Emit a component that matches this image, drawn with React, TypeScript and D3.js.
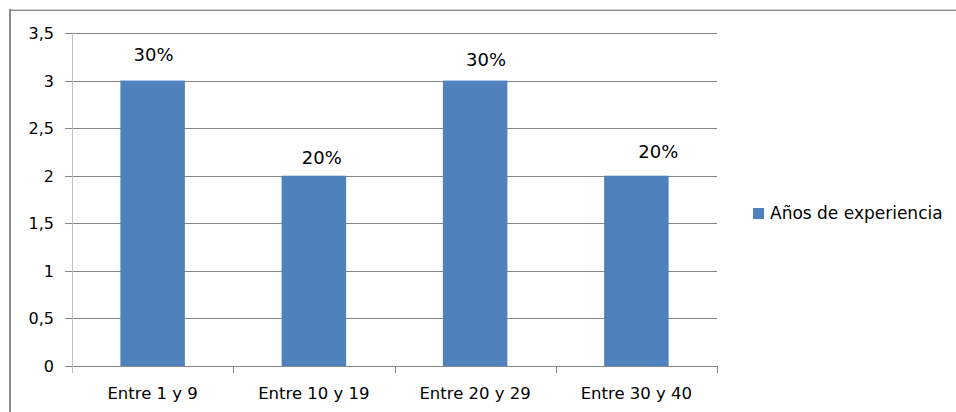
import React from "react";
import * as d3 from "d3";

const categories = ["Entre 1 y 9", "Entre 10 y 19", "Entre 20 y 29", "Entre 30 y 40"];
const values = [3, 2, 3, 2];
const valueLabels = ["30%", "20%", "30%", "20%"];
const yTicks = [0, 0.5, 1, 1.5, 2, 2.5, 3, 3.5];
const seriesName = "Años de experiencia";

const labelDx = [1, 8, 11, 22];
const labelDy = [-26, -18, -21, -24];

const W = 956, H = 412;
const plot = { left: 72, right: 717, top: 33, bottom: 366 };
const FONT = "'DejaVu Sans', Verdana, sans-serif";

export default function App() {
  const x = d3.scaleBand<string>().domain(categories).range([plot.left, plot.right]).paddingInner(0.6).paddingOuter(0.3);
  const y = d3.scaleLinear().domain([0, 3.5]).range([plot.bottom, plot.top]);
  const step = x.step();
  const bandEdges = d3.scaleBand<string>().domain(categories).range([plot.left, plot.right]);
  const fmt = (v: number) => String(v).replace(".", ",");
  const barColor = "#4f81bd";
  return (
    <svg width={W} height={H} style={{ position: "absolute", left: 0, top: 0 }} fontFamily={FONT}>
      <rect x={0} y={0} width={W} height={H} fill="#fff" />
      <line x1={9} x2={W} y1={9.5} y2={9.5} stroke="#d0d0d0" strokeWidth={1} />
      <line x1={9} x2={W} y1={10.5} y2={10.5} stroke="#8c8c8c" strokeWidth={1} />
      <line x1={10} x2={10} y1={9} y2={H} stroke="#8c8c8c" strokeWidth={2} />
      {yTicks.map((t) => (
        <g key={t}>
          <line x1={65} x2={plot.right} y1={Math.round(y(t)) + 0.5} y2={Math.round(y(t)) + 0.5} stroke="#868686" strokeWidth={1} />
          <text x={54} y={Math.round(y(t))} dy="0.35em" textAnchor="end" fontSize={16} fill="#000">{fmt(t)}</text>
        </g>
      ))}
      <line x1={plot.left + 0.5} x2={plot.left + 0.5} y1={plot.top} y2={plot.bottom + 7} stroke="#bfbfbf" strokeWidth={1} />
      {categories.map((c) => (
        <line key={c} x1={Math.round((bandEdges(c) as number) + step) + 0.5} x2={Math.round((bandEdges(c) as number) + step) + 0.5} y1={plot.bottom} y2={plot.bottom + 7} stroke="#868686" />
      ))}
      {categories.map((c, i) => {
        const bx = x(c) as number;
        const bw = x.bandwidth();
        return (
          <g key={c}>
            <rect x={bx} y={y(values[i])} width={bw} height={y(0) - y(values[i])} fill={barColor} />
            <text x={bx + bw / 2 + labelDx[i]} y={y(values[i]) + labelDy[i]} dy="0.35em" textAnchor="middle" fontSize={18} fill="#000">{valueLabels[i]}</text>
            <text x={(bandEdges(c) as number) + step / 2} y={393} dy="0.35em" textAnchor="middle" fontSize={16.5} fill="#000">{c}</text>
          </g>
        );
      })}
      <rect x={753} y={208} width={11} height={11} fill={barColor} />
      <text x={770} y={213} dy="0.35em" fontSize={17} fill="#000">{seriesName}</text>
    </svg>
  );
}
